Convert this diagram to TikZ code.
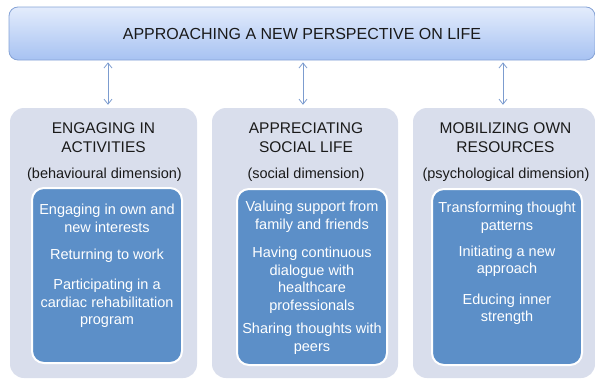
\documentclass[tikz,border=0pt]{standalone}
\usepackage{fontspec}
\setmainfont{Liberation Sans}
\usetikzlibrary{arrows.meta}
\definecolor{outerfill}{HTML}{D9DEEC}
\definecolor{innerfill}{HTML}{5C8FC8}
\definecolor{toptop}{HTML}{E3ECFC}
\definecolor{topbot}{HTML}{A7C2F2}
\definecolor{topedge}{HTML}{86A3D6}
\definecolor{arrowcol}{HTML}{7C9CCF}
\definecolor{txt}{HTML}{1A1A1A}
\tikzset{
  topbox/.style={rounded corners=9pt, draw=topedge, line width=0.8pt, top color=toptop, bottom color=topbot, minimum width=586pt, minimum height=53pt, inner sep=0pt, font=\fontsize{16}{19}\selectfont, text=txt},
  outerbox/.style={rounded corners=14pt, fill=outerfill, minimum height=270pt, inner sep=0pt},
  innerbox/.style={rounded corners=12pt, fill=innerfill, draw=white, line width=2pt, inner sep=0pt},
  headtext/.style={align=center, font=\fontsize{15.5}{19}\selectfont, text=txt, inner sep=0pt},
  subtext/.style={align=center, font=\fontsize{14.5}{17.5}\selectfont, text=txt, inner sep=0pt},
  itemtext/.style={align=center, font=\fontsize{14.5}{17.5}\selectfont, text=white, inner sep=0pt},
  arr/.style={arrowcol, line width=0.8pt, {Straight Barb[length=5pt,width=8pt]}-{Straight Barb[length=5pt,width=8pt]}, shorten <=2pt, shorten >=3pt}
}
\begin{document}
\begin{tikzpicture}[x=1pt,y=-1pt]
\useasboundingbox (0,0) rectangle (595,380);
% top box
\node[topbox] (top) at (302,33.5) {APPROACHING A NEW PERSPECTIVE ON LIFE};
% outer boxes
\node[outerbox, minimum width=187pt] (c1) at (103.5,243) {};
\node[outerbox, minimum width=186pt] (c2) at (305,243) {};
\node[outerbox, minimum width=182pt] (c3) at (504,243) {};
% inner boxes
\node[innerbox, minimum width=150pt, minimum height=175pt] (i1) at (107,275.5) {};
\node[innerbox, minimum width=150pt, minimum height=176pt] (i2) at (312,277) {};
\node[innerbox, minimum width=150pt, minimum height=176pt] (i3) at (507,277) {};
% arrows
\coordinate (a1) at (108,84);
\coordinate (a2) at (303,84);
\coordinate (a3) at (503,84);
\draw[arr] (a1 |- top.south) -- (a1 |- c1.north);
\draw[arr] (a2 |- top.south) -- (a2 |- c2.north);
\draw[arr] (a3 |- top.south) -- (a3 |- c3.north);
% headings
\node[headtext] (h1) at (103.5,137.5) {ENGAGING IN\\ACTIVITIES};
\node[headtext] (h2) at (306,137.5) {APPRECIATING\\SOCIAL LIFE};
\node[headtext] (h3) at (505.5,137.5) {MOBILIZING OWN\\RESOURCES};
\node[subtext] (s1) at (104.5,175) {(behavioural dimension)};
\node[subtext] (s2) at (306,175) {(social dimension)};
\node[subtext] (s3) at (506,175) {(psychological dimension)};
% items column 1
\node[itemtext] (t11) at (107,218.5) {Engaging in own and\\new interests};
\node[itemtext] (t12) at (107,256) {Returning to work};
\node[itemtext] (t13) at (107,303.5) {Participating in a\\cardiac rehabilitation\\program};
% items column 2
\node[itemtext] (t21) at (312,216.5) {Valuing support from\\family and friends};
\node[itemtext] (t22) at (312,280) {Having continuous\\dialogue with\\healthcare\\professionals};
\node[itemtext] (t23) at (312,338.5) {Sharing thoughts with\\peers};
% items column 3
\node[itemtext] (t31) at (507,217.5) {Transforming thought\\patterns};
\node[itemtext] (t32) at (507,261) {Initiating a new\\approach};
\node[itemtext] (t33) at (507,309) {Educing inner\\strength};
\end{tikzpicture}
\end{document}
